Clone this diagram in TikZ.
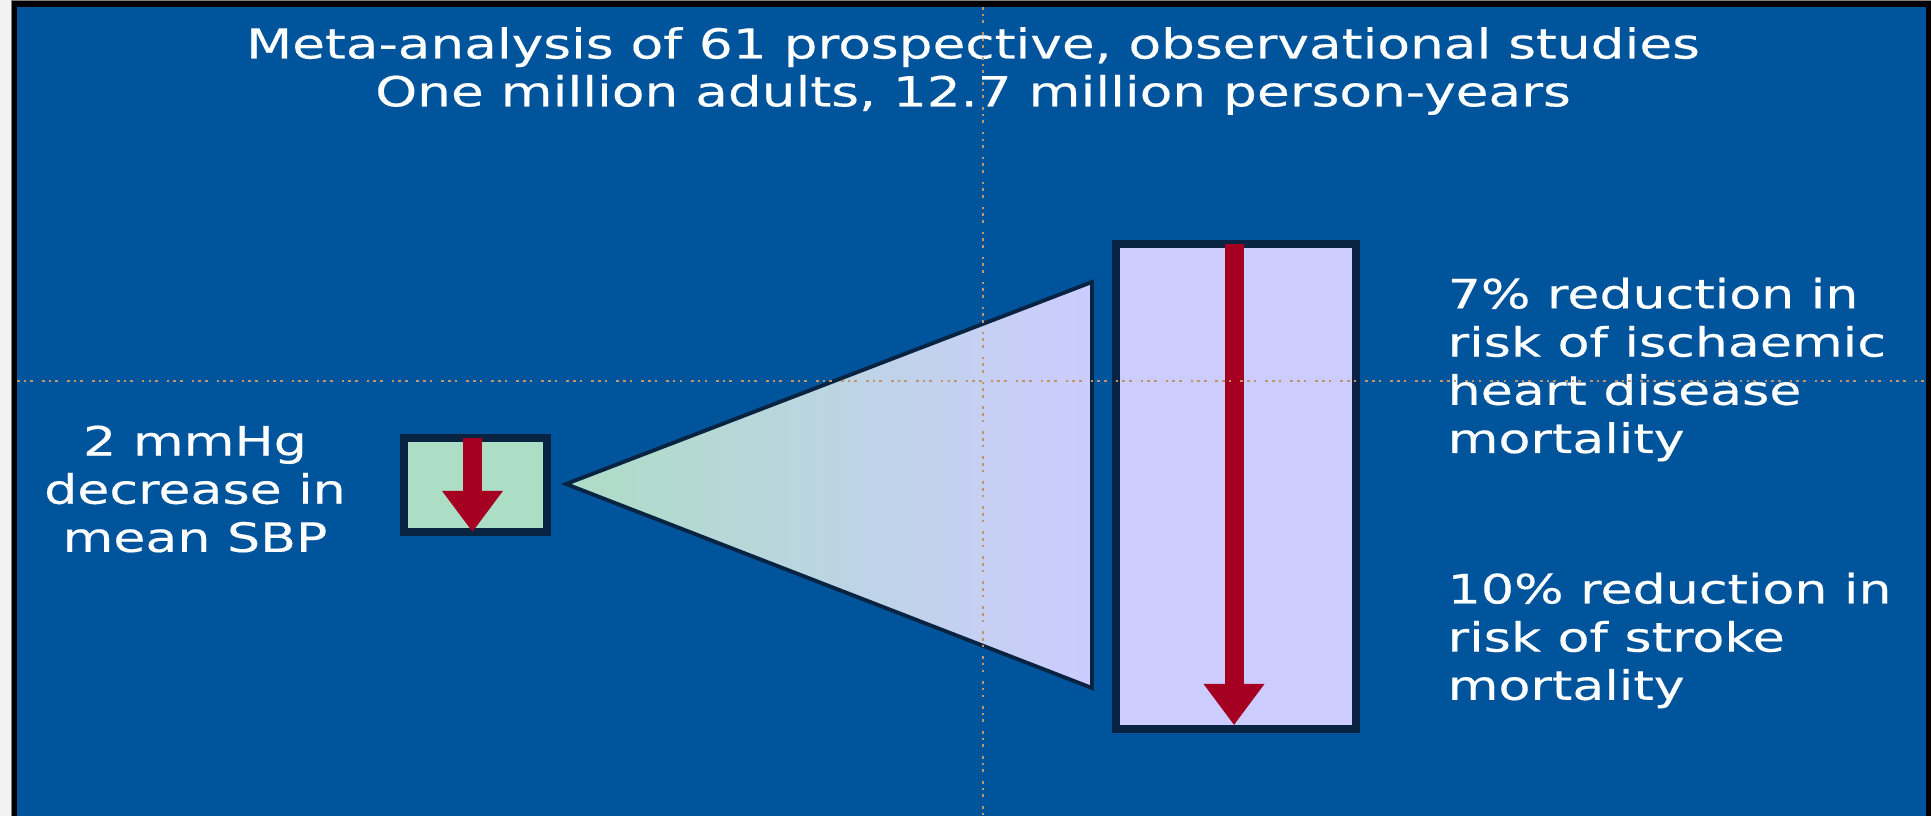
\documentclass[tikz,border=0pt]{standalone}
\usepackage{fontspec}
\setmainfont{DejaVu Sans}[FakeStretch=1.29,FakeBold=0.35]
\usepackage{tikz}
\usetikzlibrary{arrows.meta}
\usepackage{xcolor}
\definecolor{slideblue}{RGB}{0,84,155}
\definecolor{boxline}{RGB}{8,36,66}
\definecolor{mintfill}{RGB}{172,221,197}
\definecolor{lavender}{RGB}{204,204,255}
\definecolor{arrowred}{RGB}{165,0,33}
\definecolor{guidetan}{RGB}{190,150,105}

\tikzset{
  panel/.style={draw=boxline,line width=2.3pt,inner sep=0pt,outer sep=0pt},
  downarrow/.style={draw=arrowred,line width=5.4pt,-{Triangle[width=16.5pt,length=11.7pt]}},
  caption/.style={text=white,inner sep=0pt,font=\fontsize{11.5}{13.7}\selectfont},
  guide/.style={guidetan,line width=0.7pt,dash pattern=on 0.75pt off 1.15pt on 0.75pt off 1.15pt on 0.75pt off 2.55pt}
}

\begin{document}
\begin{tikzpicture}[x=0.01cm,y=-0.01cm]
  \useasboundingbox (0,0) rectangle (1931,816);
  % slide frame
  \fill[black!5](0,0) rectangle (1931,816);
  \fill[gray](11,0) rectangle (1931,816);
  \fill[black](12,1) rectangle (1931,816);
  \fill[slideblue](17,7) rectangle (1926,816);

  \node[caption,align=center,font=\fontsize{11.75}{13.6}\selectfont] (title) at (973,71)
    {Meta-analysis of 61 prospective, observational studies\\One million adults, 12.7 million person-years};

  \node[panel,fill=mintfill,minimum width=1.43cm,minimum height=0.94cm] (sbpbox) at (475.5,485) {};
  \draw[downarrow]([xshift=-0.03cm]sbpbox.north)--([xshift=-0.03cm]sbpbox.south);
  \node[caption,align=center] (sbptext) at (195,489) {2 mmHg\\decrease in\\mean SBP};

  \filldraw[draw=boxline,line width=1.1pt,left color=mintfill,right color=lavender]
    (566,484)--(1092,282)--(1092,688)--cycle;

  \node[panel,fill=lavender,minimum width=2.40cm,minimum height=4.85cm] (riskbox) at (1236,486.5) {};
  \draw[downarrow]([xshift=-0.02cm]riskbox.north)--([xshift=-0.02cm,yshift=0.04cm]riskbox.south);

  \node[caption,align=left,anchor=north west] (ihdtext) at (1447,277)
    {7\% reduction in\\risk of ischaemic\\heart disease\\mortality};
  \node[caption,align=left,anchor=north west] (stroketext) at (1447,572)
    {10\% reduction in\\risk of stroke\\mortality};

  % guides
  \draw[guide](983,7)--(983,816);
  \draw[guide](17,381)--(1926,381);
\end{tikzpicture}
\end{document}
